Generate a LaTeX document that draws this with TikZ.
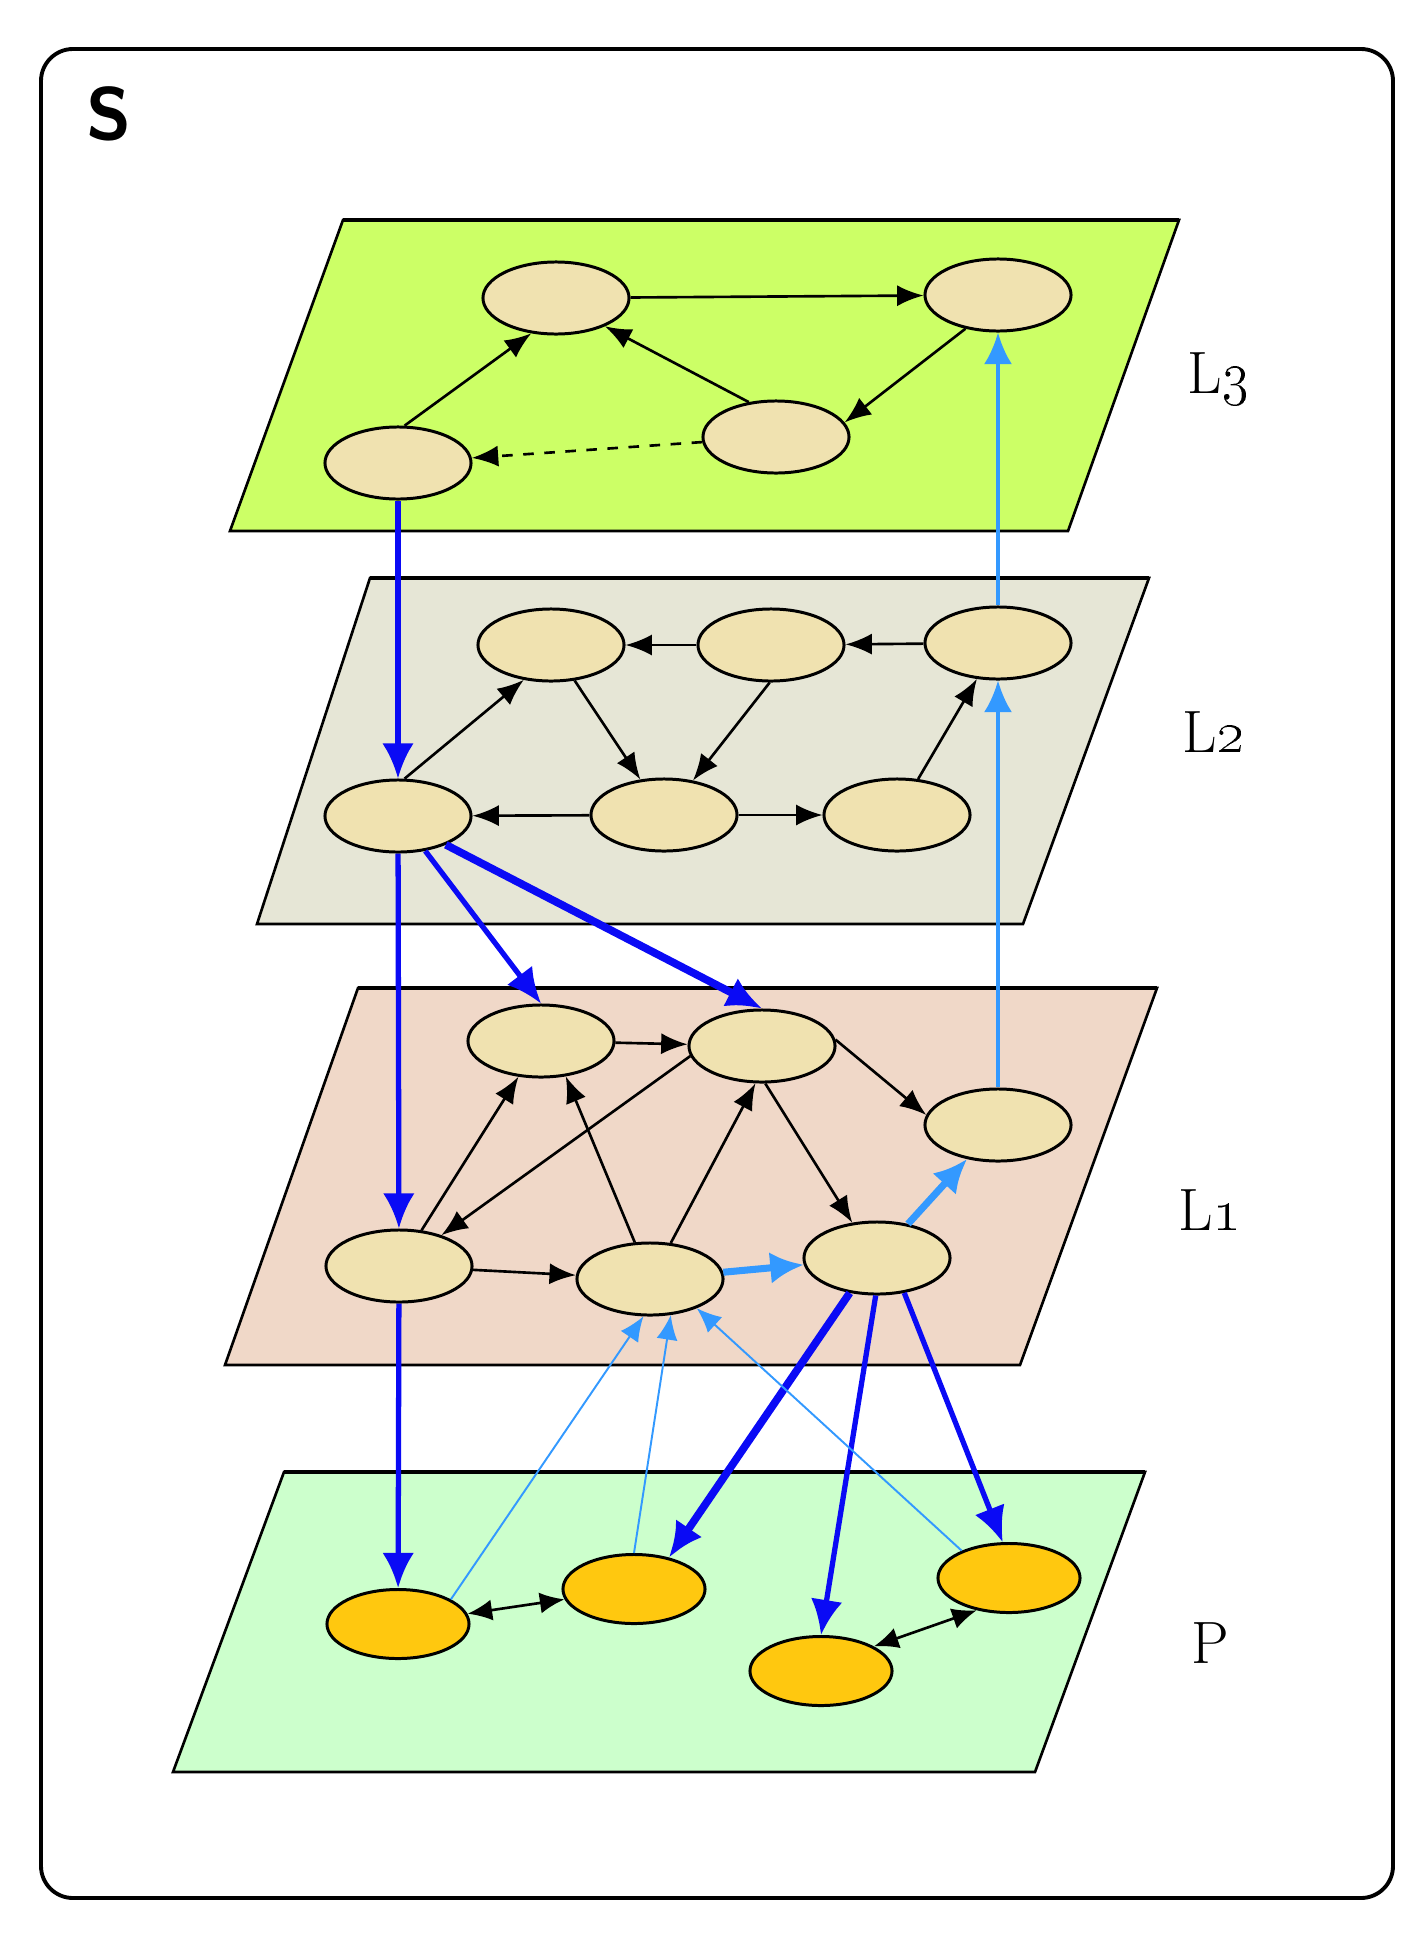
\documentclass[tikz,border=0pt]{standalone}
\usepackage{tikz}
\usepackage{xcolor}
\usetikzlibrary{positioning}
\usetikzlibrary{arrows.meta}
\usetikzlibrary{shapes.geometric}
\definecolor{planeLthree}{RGB}{204,255,102}
\definecolor{planeLtwo}{RGB}{230,230,214}
\definecolor{planeLone}{RGB}{240,216,200}
\definecolor{planeP}{RGB}{204,255,204}
\definecolor{vbeige}{RGB}{240,226,176}
\definecolor{vgold}{RGB}{255,200,15}
\definecolor{dblue}{RGB}{10,10,245}
\definecolor{lblue}{RGB}{51,153,255}
\tikzset{plane/.style={draw, line width=0.75pt}}
\tikzset{planetop/.style={line width=1.4pt}}
\tikzset{vert/.style={ellipse, draw, line width=0.85pt, fill=vbeige, minimum width=1.46cm, minimum height=0.72cm, inner sep=0pt}}
\tikzset{pvert/.style={vert, fill=vgold, minimum width=1.42cm, minimum height=0.69cm}}
\tikzset{arr/.style={-{Latex[length=7.5pt,width=6pt]}, line width=0.75pt}}
\tikzset{biarr/.style={{Latex[length=7pt,width=6pt]}-{Latex[length=7pt,width=6pt]}, line width=0.75pt}}
\tikzset{dlink/.style={-{Latex[length=10pt,width=9pt]}, line width=1.5pt, draw=dblue}}
\tikzset{dlinkbig/.style={dlink, line width=2.2pt}}
\tikzset{ulink/.style={-{Latex[length=9pt,width=8pt]}, line width=1.1pt, draw=lblue}}
\tikzset{ulinkthin/.style={-{Latex[length=7pt,width=6pt]}, line width=0.55pt, draw=lblue}}
\tikzset{ulinkbig/.style={-{Latex[length=9.5pt,width=9pt]}, line width=2pt, draw=lblue}}
\tikzset{layername/.style={font=\fontsize{17}{20}\selectfont}}

\begin{document}
\begin{tikzpicture}[x=0.01cm, y=-0.01cm]
\useasboundingbox (0,0) rectangle (1424,1936);
\draw[line width=1.1pt, rounded corners=0.32cm] (41,49) rectangle (1393,1898);
\node[font=\fontsize{21}{24}\selectfont\sffamily\bfseries] (s) at (109,114) {S};

\draw[plane, fill=planeLthree] (343,220) -- (1179,220) -- (1068,531) -- (230,531) -- cycle;
\draw[planetop] (343,220) -- (1179,220);
\draw[plane, fill=planeLtwo] (370,578) -- (1149,578) -- (1023,924) -- (257,924) -- cycle;
\draw[planetop] (370,578) -- (1149,578);
\draw[plane, fill=planeLone] (358,988) -- (1157,988) -- (1020,1365) -- (225,1365) -- cycle;
\draw[planetop] (358,988) -- (1157,988);
\draw[plane, fill=planeP] (284,1472) -- (1145,1472) -- (1035,1772) -- (173,1772) -- cycle;
\draw[planetop] (284,1472) -- (1145,1472);

\node[layername] (l3) at (1219,379) {L\oldstylenums{3}};
\node[layername] (l2) at (1214,732) {L\oldstylenums{2}};
\node[layername] (l1) at (1210,1210) {L\oldstylenums{1}};
\node[layername] (lp) at (1210,1643) {P};

\node[vert] (l3a) at (556,298) {};
\node[vert] (l3b) at (998,295) {};
\node[vert] (l3c) at (776,437) {};
\node[vert] (l3d) at (398,463) {};

\node[vert] (l2a) at (551,645) {};
\node[vert] (l2b) at (771,645) {};
\node[vert] (l2c) at (998,643) {};
\node[vert] (l2d) at (398,816) {};
\node[vert] (l2e) at (664,815) {};
\node[vert] (l2f) at (897,815) {};

\node[vert] (l1a) at (541,1041) {};
\node[vert] (l1b) at (762,1046) {};
\node[vert] (l1c) at (998,1125) {};
\node[vert] (l1d) at (399,1266) {};
\node[vert] (l1e) at (650,1279) {};
\node[vert] (l1f) at (877,1258) {};

\node[pvert] (p1) at (398,1624) {};
\node[pvert] (p2) at (634,1589) {};
\node[pvert] (p3) at (821,1671) {};
\node[pvert] (p4) at (1009,1578) {};

\draw[arr] (l3a) -- (l3b);
\draw[arr] (l3d.80) -- (l3a.-125);
\draw[arr] (l3c.128) -- (l3a.-30);
\draw[arr] (l3b.-134) -- (l3c.12);
\draw[arr, dashed] (l3c) -- (l3d);

\draw[arr] (l2b) -- (l2a);
\draw[arr] (l2c) -- (l2b);
\draw[arr] (l2d.80) -- (l2a.-128);
\draw[arr] (l2a) -- (l2e);
\draw[arr] (l2b.-92) -- (l2e.50);
\draw[arr] (l2e) -- (l2d);
\draw[arr] (l2e) -- (l2f);
\draw[arr] (l2f) -- (l2c);

\draw[arr] (l1a) -- (l1b);
\draw[arr] (l1b.5) -- (l1c.172);
\draw[arr] (l1d) -- (l1a);
\draw[arr] (l1b.-172) -- (l1d.36);
\draw[arr] (l1e) -- (l1a.-55);
\draw[arr] (l1e.60) -- (l1b.-100);
\draw[arr] (l1b.-85) -- (l1f.125);
\draw[arr] (l1d) -- (l1e);

\draw[biarr] (p1) -- (p2);
\draw[biarr] (p3.25) -- (p4.-135);

\draw[dlink] (l3d) -- (l2d);
\draw[dlink] (l2d) -- (l1d);
\draw[dlink] (l2d.-52) -- (l1a.north);
\draw[dlinkbig] (l2d.-31) -- (l1b.north);
\draw[dlink] (l1d) -- (p1);
\draw[dlinkbig] (l1f.-128) -- (p2.42);
\draw[dlink] (l1f.-92) -- (p3.north);
\draw[dlink] (l1f.-52) -- (p4.100);

\draw[ulink] (l1c) -- (l2c);
\draw[ulink] (l2c) -- (l3b);
\draw[ulinkbig] (l1e) -- (l1f);
\draw[ulinkbig] (l1f) -- (l1c);
\draw[ulinkthin] (p1.25) -- (l1e.-100);
\draw[ulinkthin] (p2.north) -- (l1e.-60);
\draw[ulinkthin] (p4.150) -- (l1e.-32);
\end{tikzpicture}
\end{document}
